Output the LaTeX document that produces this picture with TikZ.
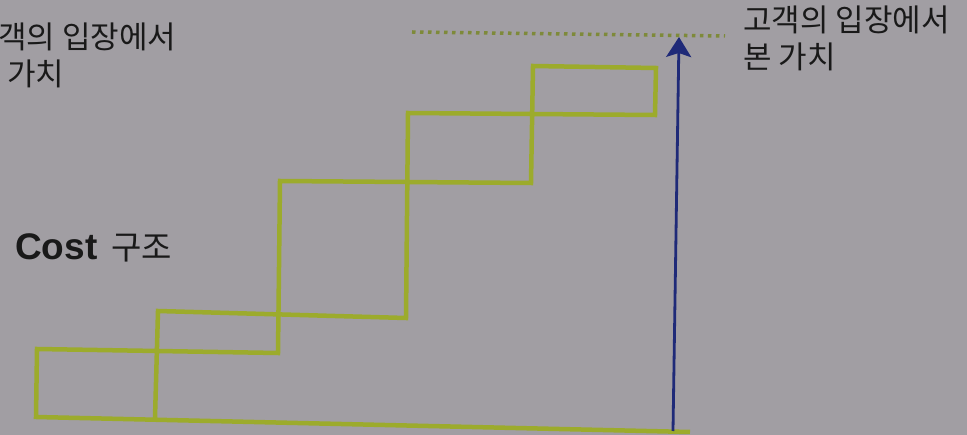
\documentclass[tikz,border=0pt]{standalone}
\usepackage{fontspec}
\setmainfont{Liberation Sans}
\newfontfamily\kr{Noto Sans CJK KR}
\usetikzlibrary{arrows.meta}
\definecolor{bg}{HTML}{A19EA3}
\definecolor{stair}{HTML}{9CAB2C}
\definecolor{arrowblue}{HTML}{1F2A78}
\definecolor{dotcol}{HTML}{7E8A3A}
\tikzset{
  stairline/.style={draw=stair, line width=4.5pt, line join=miter},
  valuearrow/.style={draw=arrowblue, line width=2.8pt, -{Stealth[length=20pt,width=25pt,inset=4pt]}},
  levelline/.style={draw=dotcol, line width=3.5pt, dash pattern=on 3.5pt off 4.5pt},
  krlabel/.style={inner sep=0pt, align=left, text=black!90, font=\kr\fontsize{31}{37}\selectfont},
}
\begin{document}
\begin{tikzpicture}[x=1pt,y=-1pt]
\fill[bg] (0,0) rectangle (967,435);
\useasboundingbox (0,0) rectangle (967,435);
% staircase
\draw[stairline] (155,418) -- (158,311) -- (406,318) -- (408,113) -- (655,115) -- (656,68)
  -- (533,66) -- (531,183) -- (280,181) -- (278,353) -- (37,349) -- (36,417) -- (690,432);
% level line and arrow
\coordinate (dl) at (412,32);
\coordinate (dr) at (725,36);
\draw[levelline] (dl) -- (dr);
\coordinate (abot) at (673,431);
\coordinate (atop) at (679,37);
\draw[valuearrow] (abot) -- (atop);
% texts
\node[krlabel, anchor=north west] (rt) at (743,6) {고객의 입장에서\\본 가치};
\node[krlabel, anchor=north west] (lt) at (-2,23) {객의 입장에서\\\hspace*{9pt}가치};
\node[inner sep=0pt, anchor=base west, text=black!90] (cost) at (15,260)
  {\fontsize{37}{40}\selectfont\bfseries Cost\hspace{14pt}\kr\mdseries\fontsize{33}{40}\selectfont 구조};
\end{tikzpicture}
\end{document}
